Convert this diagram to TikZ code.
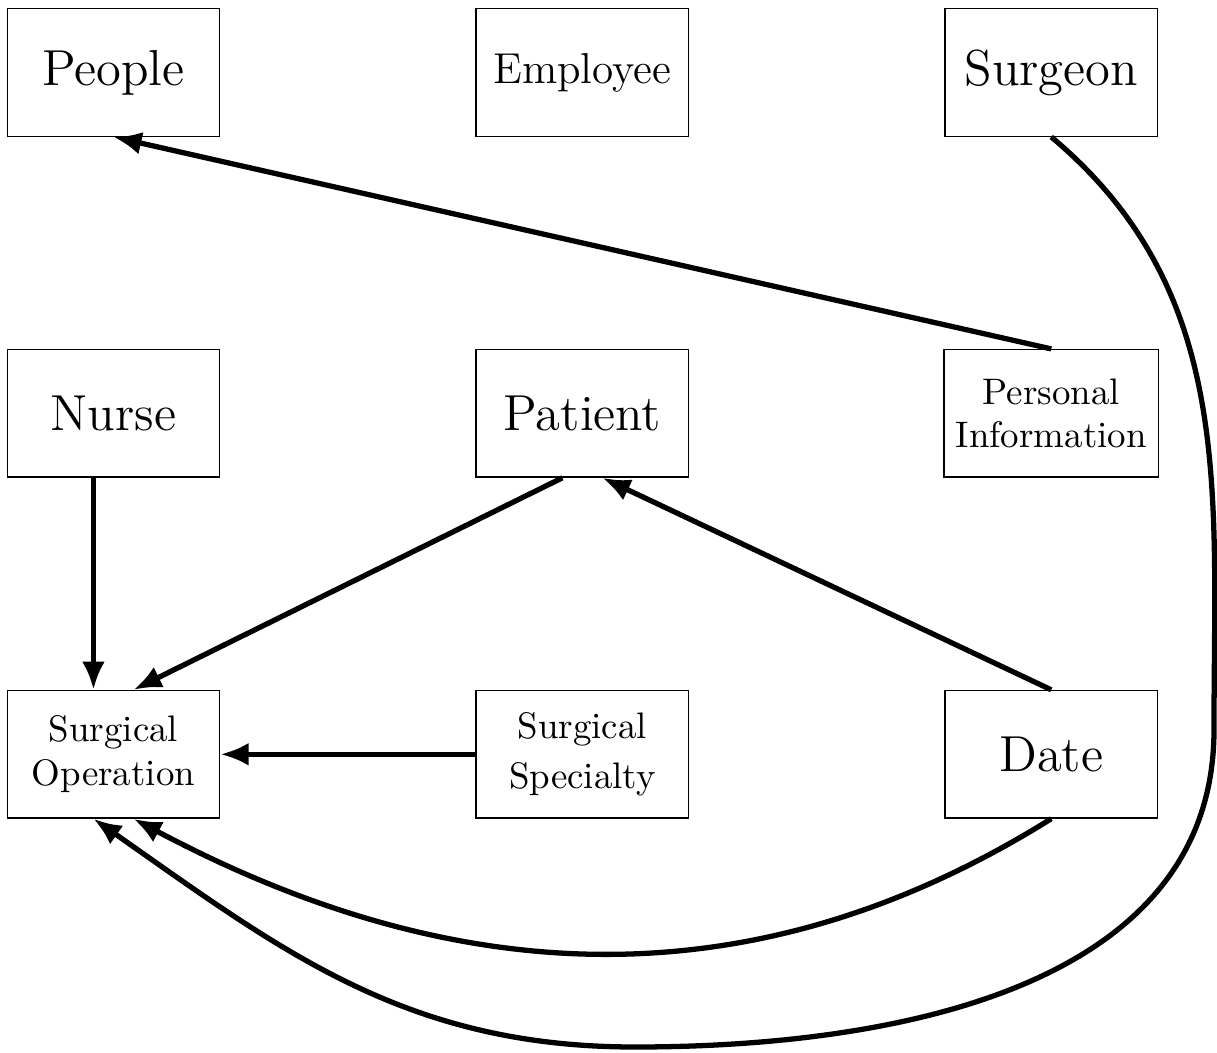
\documentclass[tikz,border=0pt]{standalone}
\usepackage{tikz}
\usetikzlibrary{positioning,arrows.meta}

\begin{document}
\begin{tikzpicture}[node distance=2.12cm and 2.55cm]
        \tikzstyle{entity}=[rectangle,draw=black,minimum width=2.125cm,minimum height=1.275cm,align=center]
        \tikzstyle{link}=[line width=1.5pt,-{Latex[length=8pt,width=6.5pt]}]
        \useasboundingbox (0,0) rectangle (12.17,-10.53);
        \node[entity,font=\Large,anchor=north west] (people) at (0.065,-0.08) {People};
        \node[entity,font=\fontsize{12.3}{14}\selectfont] (employee) [right=of people] {Employee};
        \node[entity,font=\Large] (surgeon) [right=of employee] {Surgeon};
        \node[entity,font=\Large] (nurse) [below=of people] {Nurse};
        \node[entity,font=\Large] (patient) [below=of employee] {Patient};
        \node[entity,font=\fontsize{10.5}{12.5}\selectfont] (personal_info) [below=of surgeon] {Personal\\Information};
        \node[entity,font=\fontsize{10.5}{12.5}\selectfont] (surg_op) [below=of nurse] {Surgical\\Operation};
        \node[entity,font=\fontsize{10.5}{12.5}\selectfont] (surg_spec) [below=of patient] {Surgical\\[2pt]Specialty};
        \node[entity,font=\Large] (date) [below=of personal_info] {Date};
        \draw[link] (personal_info.north) -- (people.south);
        \draw[link] ([xshift=-0.2cm]nurse.south) -- ([xshift=-0.2cm]surg_op.north);
        \draw[link] ([xshift=-0.2cm]patient.south) -- ([xshift=0.2cm]surg_op.north);
        \draw[link] (date.north) -- ([xshift=0.2cm]patient.south);
        \draw[link] (surg_spec.west) -- (surg_op.east);
        \draw[link] (date.south) to[out=-148,in=-28] ([xshift=0.2cm]surg_op.south);
        \coordinate (right_bend) at (12.14,-7.3);
        \coordinate (low_point) at (6.35,-10.47);
        \draw[link] (surgeon.south) to[out=-40,in=90] (right_bend) to[out=-90,in=0] (low_point) to[out=180,in=-35] ([xshift=-0.2cm]surg_op.south);
    \end{tikzpicture}
\end{document}
